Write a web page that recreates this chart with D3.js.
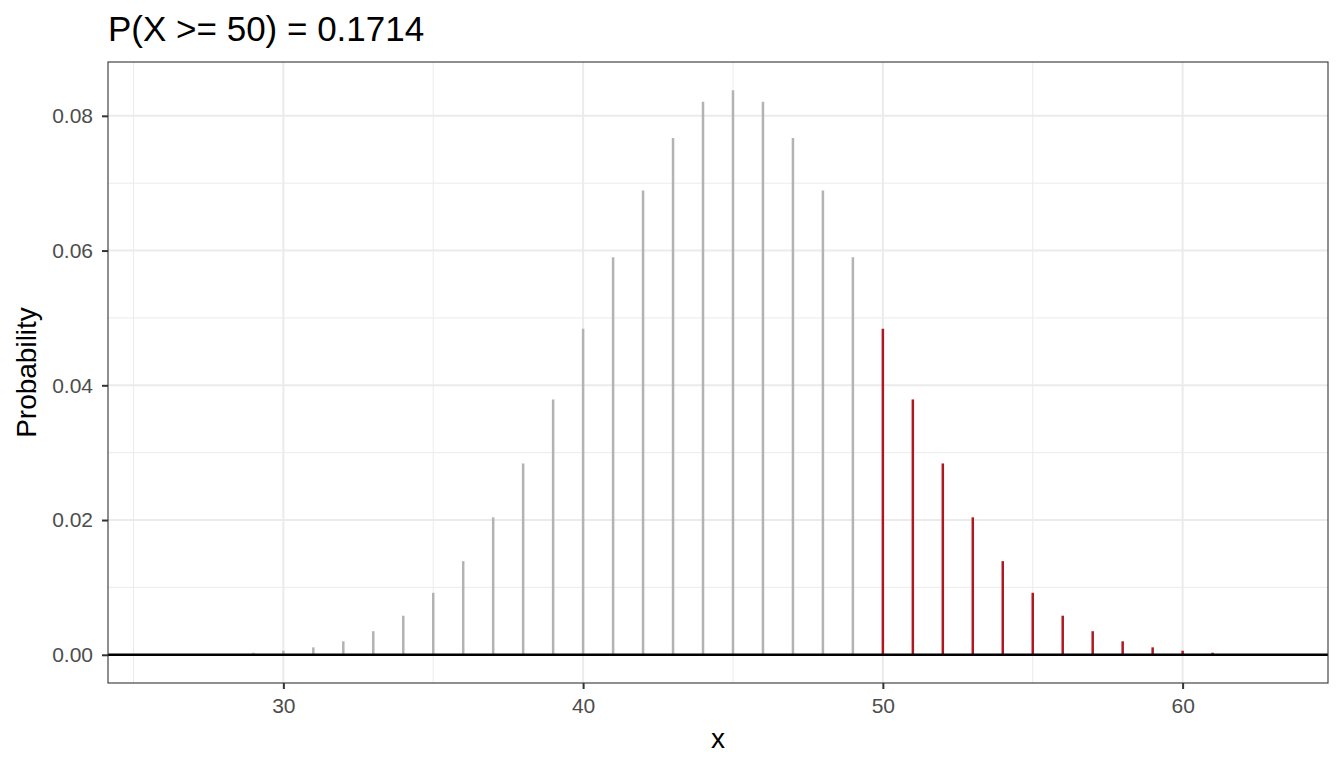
<!DOCTYPE html>
<html>
<head>
<meta charset="utf-8">
<script src="https://cdn.jsdelivr.net/npm/d3@7"></script>
<style>
  body { margin: 0; background: #fff; }
  text { font-family: "Liberation Sans", Arial, sans-serif; }
</style>
</head>
<body>
<svg id="chart" width="1344" height="768"></svg>
<script>
// values
var xs = [26, 27, 28, 29, 30, 31, 32, 33, 34, 35, 36, 37, 38, 39, 40, 41, 42, 43, 44,
          45, 46, 47, 48, 49, 50, 51, 52, 53, 54, 55, 56, 57, 58, 59, 60, 61, 62, 63];
var probs = [0.00002, 0.00005, 0.0001, 0.0003, 0.0006, 0.0011, 0.0020, 0.0035, 0.0058, 0.0092,
             0.0139, 0.0204, 0.0284, 0.0379, 0.0484, 0.0590, 0.0689, 0.0767, 0.0821,
             0.0838, 0.0821, 0.0767, 0.0689, 0.0590, 0.0484, 0.0379, 0.0284, 0.0204, 0.0139,
             0.0092, 0.0058, 0.0035, 0.0020, 0.0011, 0.0006, 0.0003, 0.0001, 0.00005];
var cutoff = 50;
var xTicks = [30, 40, 50, 60];
var yTicks = [0, 0.02, 0.04, 0.06, 0.08];
var xMinor = [25, 35, 45, 55];
var yMinor = [0.01, 0.03, 0.05, 0.07];
var titleText = "P(X >= 50) = 0.1714";

var data = xs.map(function (v, i) { return { x: v, p: probs[i] }; });

var svg = d3.select("#chart");
// panel box (note: "top" is a reserved window prop, so use other names)
var pL = 108, pR = 1328, pT = 62, pB = 683;

var x = d3.scaleLinear().domain([24.15, 64.85]).range([pL, pR]);
var y = d3.scaleLinear().domain([-0.00419, 0.08799]).range([pB, pT]);

// grid
var grid = svg.append("g");
grid.selectAll(".mx").data(xMinor).enter().append("line")
  .attr("x1", function (d) { return x(d); }).attr("x2", function (d) { return x(d); })
  .attr("y1", pT).attr("y2", pB).attr("stroke", "#ebebeb").attr("stroke-width", 1);
grid.selectAll(".my").data(yMinor).enter().append("line")
  .attr("y1", function (d) { return y(d); }).attr("y2", function (d) { return y(d); })
  .attr("x1", pL).attr("x2", pR).attr("stroke", "#ebebeb").attr("stroke-width", 1);
grid.selectAll(".Mx").data(xTicks).enter().append("line")
  .attr("x1", function (d) { return x(d); }).attr("x2", function (d) { return x(d); })
  .attr("y1", pT).attr("y2", pB).attr("stroke", "#ebebeb").attr("stroke-width", 2);
grid.selectAll(".My").data(yTicks).enter().append("line")
  .attr("y1", function (d) { return y(d); }).attr("y2", function (d) { return y(d); })
  .attr("x1", pL).attr("x2", pR).attr("stroke", "#ebebeb").attr("stroke-width", 2);

// spikes
svg.append("g").selectAll("line").data(data).enter().append("line")
  .attr("x1", function (d) { return x(d.x); })
  .attr("x2", function (d) { return x(d.x); })
  .attr("y1", y(0))
  .attr("y2", function (d) { return y(d.p); })
  .attr("stroke", function (d) { return d.x >= cutoff ? "#ae1820" : "#b3b3b3"; })
  .attr("stroke-width", 2.5);

// zero line
svg.append("line")
  .attr("x1", pL).attr("x2", pR)
  .attr("y1", y(0)).attr("y2", y(0))
  .attr("stroke", "#000").attr("stroke-width", 2.6);

// panel border
svg.append("rect")
  .attr("x", pL).attr("y", pT)
  .attr("width", pR - pL).attr("height", pB - pT)
  .attr("fill", "none").attr("stroke", "#333").attr("stroke-width", 1.1);

// axes
var xAxis = d3.axisBottom(x).tickValues(xTicks).tickSize(6).tickPadding(9).tickFormat(d3.format("d"));
var gx = svg.append("g").attr("transform", "translate(0," + pB + ")").call(xAxis);
gx.attr("font-size", null).attr("font-family", null);
gx.select(".domain").remove();
gx.selectAll(".tick line").attr("stroke", "#333").attr("stroke-width", 2);
gx.selectAll(".tick text").attr("fill", "#4d4d4d").style("font-size", "21px");

var yAxis = d3.axisLeft(y).tickValues(yTicks).tickSize(6).tickPadding(9).tickFormat(d3.format(".2f"));
var gy = svg.append("g").attr("transform", "translate(" + pL + ",0)").call(yAxis);
gy.attr("font-size", null).attr("font-family", null);
gy.select(".domain").remove();
gy.selectAll(".tick line").attr("stroke", "#333").attr("stroke-width", 2);
gy.selectAll(".tick text").attr("fill", "#4d4d4d").style("font-size", "21px");

// labels
svg.append("text").attr("x", (pL + pR) / 2).attr("y", 748)
  .attr("text-anchor", "middle").style("font-size", "28px").attr("fill", "#000").text("x");
svg.append("text")
  .attr("transform", "translate(36," + ((pT + pB) / 2) + ") rotate(-90)")
  .attr("text-anchor", "middle").style("font-size", "28px").attr("fill", "#000").text("Probability");
svg.append("text").attr("x", pL).attr("y", 41)
  .style("font-size", "35px").attr("fill", "#000").text(titleText);
</script>
</body>
</html>
